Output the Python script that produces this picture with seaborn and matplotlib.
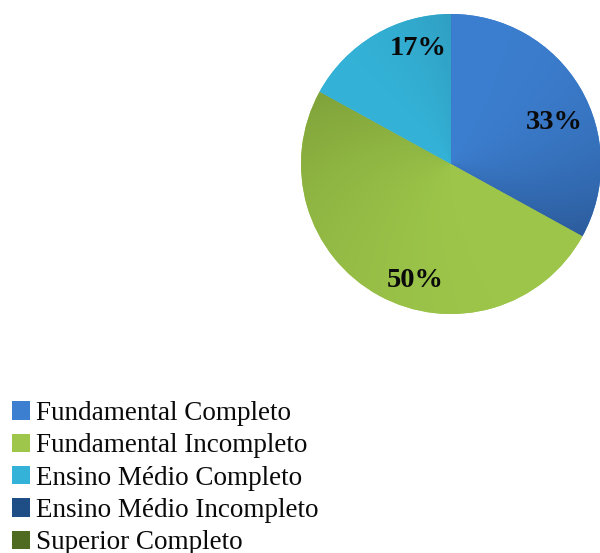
import numpy as np
import matplotlib
matplotlib.use("Agg")
import matplotlib.pyplot as plt
from matplotlib.patches import Patch
from matplotlib.colors import to_rgb
import seaborn as sns

# Escolaridade dos entrevistados
categorias = ["Fundamental Completo", "Fundamental Incompleto", "Ensino Médio Completo",
              "Ensino Médio Incompleto", "Superior Completo"]
percentuais = [33, 50, 17, 0, 0]
cores = ["#3C7ECF", "#9DC64A", "#34B2D7", "#1F4E86", "#4F6B22"]
cores_escuras = ["#2C5C9C", "#80A33A", "#2F9FC2", "#183D69", "#3D541A"]

sns.set_theme(style="white")
plt.rcParams["font.family"] = ["Liberation Serif", "DejaVu Serif"]

W, H = 600, 553
fig = plt.figure(figsize=(W / 100, H / 100), dpi=100)
fig.patch.set_facecolor("white")

# pie axes: centre (451, 164) px, radius 150 px
R = 150
ax = fig.add_axes([(451 - R) / W, 1 - (164 + R) / H, 2 * R / W, 2 * R / H])
ax.set_aspect("equal")
ax.axis("off")

wedges, _ = ax.pie(percentuais, colors=cores, startangle=90, counterclock=False,
                   radius=1, center=(0, 0), frame=False,
                   wedgeprops=dict(linewidth=0))
ax.set_xlim(-1, 1)
ax.set_ylim(-1, 1)

# conical shading: each slice darkens towards its clockwise end and outer rim
n = 400
xs = np.linspace(-1, 1, n)
X, Y = np.meshgrid(xs, xs[::-1])
theta = np.degrees(np.arctan2(Y, X))
rr = np.clip(np.hypot(X, Y), 0, 1)
for w, c0, c1, v in zip(wedges, cores, cores_escuras, percentuais):
    if v == 0:
        continue
    t1, t2 = w.theta1, w.theta2
    t = ((t2 - theta) % 360) / (t2 - t1)
    t = np.clip(t, 0, 1)
    s = (t ** 2.5) * (0.3 + 0.7 * rr)
    a, b = np.array(to_rgb(c0)), np.array(to_rgb(c1))
    img = a[None, None, :] * (1 - s[..., None]) + b[None, None, :] * s[..., None]
    im = ax.imshow(img, extent=(-1, 1, -1, 1), zorder=w.get_zorder() + 0.1,
                   interpolation="bilinear")
    im.set_clip_path(w)

# percentage labels (radius, angle) in data units
posicoes = [(0.74, 22), (0.81, 253), (0.80, 106)]
for v, (r, ang) in zip([p for p in percentuais if p > 0], posicoes):
    ax.text(r * np.cos(np.radians(ang)), r * np.sin(np.radians(ang)), f"{v}%",
            ha="center", va="center", fontsize=20.5, fontweight="bold",
            color="#0a0a0a", zorder=10)

handles = [Patch(facecolor=c, edgecolor="none") for c in cores]
leg = fig.legend(handles, categorias, loc="upper left",
                 bbox_to_anchor=(12 / W, 1 - 401 / H), frameon=False,
                 prop=dict(size=19.5), handlelength=0.66, handleheight=0.66,
                 handletextpad=0.24, labelspacing=0.27, borderpad=0,
                 borderaxespad=0)
for txt in leg.get_texts():
    txt.set_color("#0a0a0a")

fig.savefig("out.png", dpi=100, facecolor="white")
